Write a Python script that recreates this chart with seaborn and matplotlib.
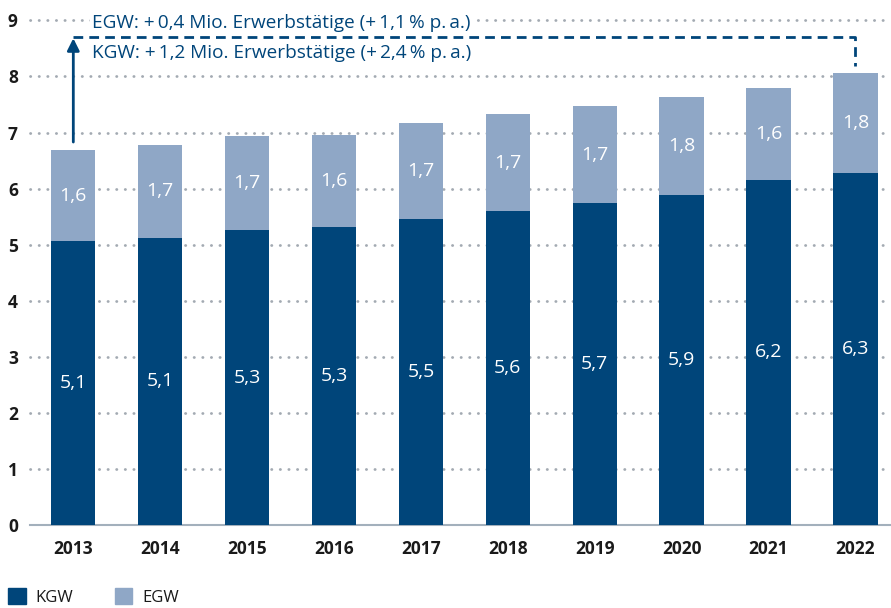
import numpy as np
import pandas as pd
import seaborn as sns
import matplotlib.pyplot as plt
from matplotlib.patches import Patch

years = ['2013', '2014', '2015', '2016', '2017', '2018', '2019', '2020', '2021', '2022']
kgw = [5.06, 5.12, 5.26, 5.31, 5.46, 5.60, 5.74, 5.88, 6.16, 6.27]
egw = [1.62, 1.66, 1.67, 1.64, 1.71, 1.73, 1.73, 1.76, 1.64, 1.80]
note_egw = 'EGW: +\u20090,4 Mio. Erwerbstätige (+\u20091,1\u2009% p.\u2009a.)'
note_kgw = 'KGW: +\u20091,2 Mio. Erwerbstätige (+\u20092,4\u2009% p.\u2009a.)'

dark = '#00457a'
light = '#8fa7c6'
grid = '#a3aab2'

sns.set_style('white')
plt.rcParams['font.family'] = ['Open Sans', 'DejaVu Sans']

df = pd.DataFrame({'year': years, 'KGW': kgw, 'EGW': egw})
df['total'] = df['KGW'] + df['EGW']

fig = plt.figure(figsize=(8.91, 6.08), dpi=100)
ax = fig.add_axes([0.034, 0.1365, 0.966, 0.83])

for y in range(1, 10):
    ax.axhline(y, color=grid, lw=2, ls=(0, (0.1, 3.0)), dash_capstyle='round',
               zorder=0, clip_on=False)

sns.barplot(data=df, x='year', y='total', color=light, width=0.51, saturation=1,
            linewidth=0, ax=ax, zorder=2)
sns.barplot(data=df, x='year', y='KGW', color=dark, width=0.51, saturation=1,
            linewidth=0, ax=ax, zorder=3)

for i, row in df.iterrows():
    ax.text(i, row['KGW'] / 2, f"{row['KGW']:.1f}".replace('.', ','), color='white',
            ha='center', va='center', fontsize=14, zorder=4)
    ax.text(i, row['KGW'] + row['EGW'] / 2, f"{row['EGW']:.1f}".replace('.', ','), color='white',
            ha='center', va='center', fontsize=14, zorder=4)

ax.set_ylim(0, 9)
ax.set_xlim(-0.495, 9.41)
ax.set_yticks(range(0, 10))
ax.set_xlabel('')
ax.set_ylabel('')
for s in ['left', 'right', 'top']:
    ax.spines[s].set_visible(False)
ax.spines['bottom'].set_color('#a3b0bc')
ax.spines['bottom'].set_linewidth(1.5)
ax.tick_params(axis='both', length=0, labelsize=12.5, labelcolor='#1a1a1a')
ax.tick_params(axis='x', pad=11)
ax.tick_params(axis='y', pad=9)
for lab in ax.get_xticklabels() + ax.get_yticklabels():
    lab.set_fontweight('bold')

# annotation: arrow and dashed bracket
top_y = 8.7
ax.annotate('', xy=(0, top_y - 0.02), xytext=(0, df['total'][0] + 0.15),
            arrowprops=dict(arrowstyle='-|>', color=dark, lw=2, mutation_scale=18,
                            shrinkA=0, shrinkB=0), zorder=5)
ax.plot([0, 9, 9], [top_y, top_y, df['total'][9] + 0.12], color=dark, lw=2,
        ls=(0, (3.5, 2.2)), clip_on=False, zorder=5)
ax.text(0.22, 8.96, note_egw, color=dark, fontsize=13.7, va='center', ha='left', zorder=6,
        bbox=dict(facecolor='white', edgecolor='none', pad=1.5))
ax.text(0.22, 8.42, note_kgw, color=dark, fontsize=13.7, va='center', ha='left', zorder=6)

handles = [Patch(color=dark, label='KGW'), Patch(color=light, label='EGW')]
fig.legend(handles=handles, loc='lower left', bbox_to_anchor=(0.009, 0.004), ncol=2,
           frameon=False, fontsize=12, handlelength=1.05, handleheight=1.05,
           borderpad=0, borderaxespad=0,
           columnspacing=2.5, handletextpad=0.6, labelcolor='#1a1a1a')

fig.savefig('out.png', dpi=100)
